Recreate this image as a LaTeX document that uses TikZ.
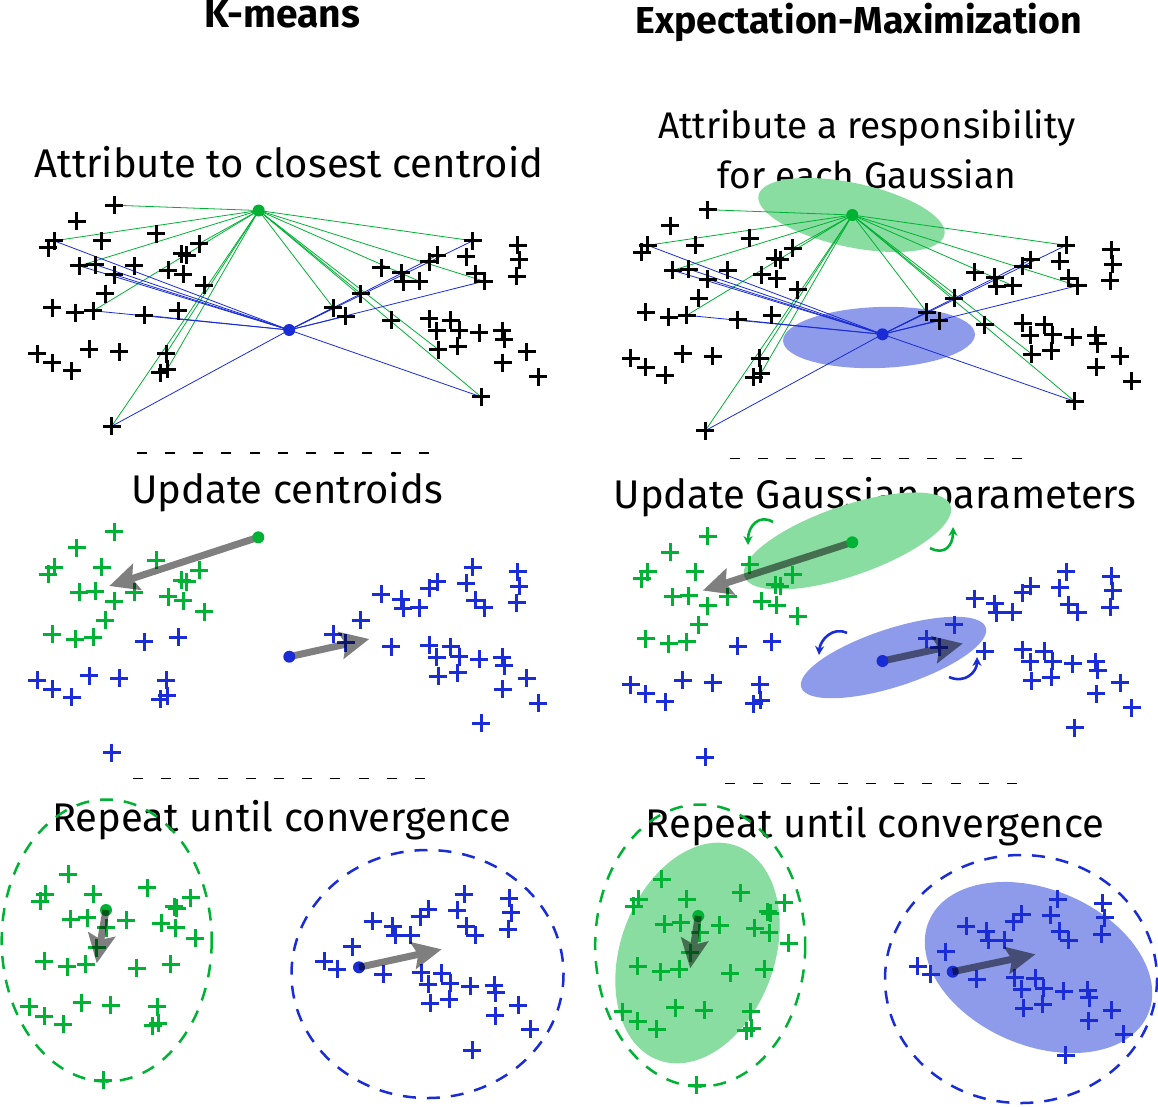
\documentclass[tikz,border=0pt]{standalone}
\usepackage{fontspec}
\setmainfont{Fira Sans}
\usetikzlibrary{arrows.meta}
\definecolor{cg}{RGB}{0,178,52}
\definecolor{cb}{RGB}{26,44,214}
\definecolor{eg}{RGB}{137,221,160}
\definecolor{eb}{RGB}{142,155,235}
\tikzset{
  pmark/.pic={\draw[line width=3pt] (-9,0)--(9,0) (0,-9)--(0,9);},
  ttl/.style={font=\bfseries\fontsize{38}{40}\selectfont, anchor=base},
  sub/.style={font=\fontsize{40}{44}\selectfont, anchor=base},
  subsm/.style={font=\fontsize{37}{42}\selectfont, anchor=base},
  link/.style={line width=0.8pt},
  sep/.style={line width=1.8pt, dash pattern=on 10pt off 18.2pt},
  dcirc/.style={line width=2.5pt, dash pattern=on 13pt off 11pt},
  cdot/.style={circle, fill, inner sep=0pt, minimum size=12pt},
  move/.style={line width=7pt, -{Stealth[length=29pt,width=27pt,inset=5pt]}},
  rotarr/.style={line width=2.6pt, -{Stealth[length=9pt,width=9pt]}},
}
\def\basepts{114.3/531.7/cg,76.7/547.7/cg,54/567.3/cg,48.3/574.3/cg,101.7/567.3/cg,156/560/cg,199.3/570/cg,181.7/580/cg,186.7/581.7/cg,79.3/592.3/cg,95/591/cg,114/601/cg,134.3/592.3/cg,168.3/596.7/cg,183.3/600.7/cg,204.3/611.7/cg,105/620/cg,52.3/634/cg,75/639/cg,93.3/637.3/cg,144.3/641.7/cb,178.3/637.3/cb,37.3/680/cb,52.3/689.3/cb,71.7/697.3/cb,89.3/675.7/cb,119/678.3/cb,166/680/cb,167.3/695.7/cb,160/699.3/cb,111.7/752.7/cb,333.3/634.3/cb,345.7/642.7/cb,360.7/620/cb,381/594/cb,401/599/cb,403.3/608.3/cb,419.3/607.7/cb,429.3/588.3/cb,437.3/581.7/cb,472.7/567.3/cb,466/583.3/cb,475/600/cb,484/607.7/cb,517.7/571.7/cb,519.3/586/cb,516.7/602.7/cb,391/646.7/cb,429/645/cb,436.7/657.3/cb,450.7/646.7/cb,459/656.7/cb,438.3/676/cb,457.7/672.7/cb,479/659/cb,502.3/657.3/cb,504.3/665.7/cb,526.7/678.3/cb,502.7/689/cb,538.3/703.3/cb,481/723.3/cb}
\def\botpts{68.3/874.3/cg,45/894.3/cg,40/901/cg,93.3/894.3/cg,147.3/887.7/cg,190.7/897.7/cg,174/906.7/cg,176.7/908.3/cg,161/923.3/cg,175.7/927.7/cg,195/938.3/cg,70.7/919.3/cg,87.3/917.7/cg,106/927.7/cg,126/920/cg,96.7/947.7/cg,44/961/cg,67.3/966.7/cg,85.7/964.3/cg,136.7/968.3/cg,170.7/964.3/cg,29.3/1006.7/cg,44/1016/cg,63.3/1024.3/cg,81.7/1002.7/cg,110.7/1005/cg,157.3/1006.7/cg,158.3/1023.3/cg,152.7/1025.7/cg,103.3/1080/cg,464.3/894.3/cb,457.3/910/cb,428.3/909/cb,420/916.7/cb,509.3/898.3/cb,511/912.7/cb,508.3/929.3/cb,466/926/cb,475/935/cb,372.7/921/cb,392.7/926/cb,395/935/cb,410.7/935/cb,352.3/946.7/cb,324.3/961/cb,337.3/969/cb,383.3/974/cb,421/972.7/cb,428.3/984.3/cb,441.7/973.3/cb,450/983.3/cb,430/1003.3/cb,449/999.3/cb,470/986/cb,494.3/985/cb,495.7/992.7/cb,518.3/1005/cb,495/1015.7/cb,530/1029.3/cb,472.3/1050/cb}
\begin{document}
\begin{tikzpicture}[x=1pt,y=-1pt]
\useasboundingbox[fill=white] (0,0) rectangle (1158,1106);
% titles
\node[ttl, font=\bfseries\fontsize{39}{40}\selectfont] (t1) at (282,27) {K-means};
\node[ttl, font=\bfseries\fontsize{37.5}{40}\selectfont] (t2) at (858.5,33) {Expectation-Maximization};
\node[sub] (s1) at (289,177) {Attribute to closest centroid};
\node[subsm] (s2) at (867,138.3) {Attribute a responsibility};
\node[subsm] (s3) at (866.7,188.3) {for each Gaussian};
\node[sub] (s4) at (287,503) {Update centroids};
\node[sub] (s5) at (875,508) {Update Gaussian parameters};
\node[sub] (s6) at (281.5,831) {Repeat until convergence};
\node[sub] (s7) at (875,837) {Repeat until convergence};
% separators
\draw[sep] (136.7,453.3) -- (438.3,453.3);
\draw[sep] (133,778.5) -- (434,778.5);
\draw[sep] (730,458.5) -- (1031,458.5);
\draw[sep] (725,783.5) -- (1026,783.5);
% ---------- top-left
\foreach \x/\y/\c [count=\i] in \basepts { \coordinate (tl\i) at (\x,\y-326.5); }
\coordinate (tlG) at (258.7,210.5);
\coordinate (tlB) at (289.2,330);
\foreach \j in {1,3,7,10,20,28,29,31,32,34,38,41,44,53,61} \draw[cg,link] (tlG) -- (tl\j);
\foreach \j in {3,10,11,12,20,21,31,32,33,40,41,44,61} \draw[cb,link] (tlB) -- (tl\j);
\foreach \i in {1,...,61} \pic[black] at (tl\i) {pmark};
\node[cdot,cg] at (tlG) {};
\node[cdot,cb] at (tlB) {};
% ---------- top-right
\fill[eg] (851.5,215) ellipse [x radius=95, y radius=32, rotate=-12];
\fill[eb] (879,337.5) ellipse [x radius=96, y radius=30.5, rotate=2];
\foreach \x/\y/\c [count=\i] in \basepts { \coordinate (tr\i) at (\x+593.5,\y-322); }
\coordinate (trG) at (852.3,215);
\coordinate (trB) at (882.5,334.3);
\foreach \j in {1,3,7,10,20,28,29,31,32,34,38,41,44,53,61} \draw[cg,link] (trG) -- (tr\j);
\foreach \j in {3,10,11,12,20,21,31,32,33,40,41,44,61} \draw[cb,link] (trB) -- (tr\j);
\foreach \i in {1,...,61} \pic[black] at (tr\i) {pmark};
\node[cdot,cg] at (trG) {};
\node[cdot,cb] at (trB) {};
% ---------- middle-left
\foreach \x/\y/\c [count=\i] in \basepts { \coordinate (ml\i) at (\x,\y); \pic[\c] at (ml\i) {pmark}; }
\coordinate (mlG) at (258.3,537.3);
\coordinate (mlB) at (289.3,656.7);
\coordinate (mlGt) at (109.3,586);
\coordinate (mlBt) at (369.3,639);
\begin{scope}[transparency group, opacity=0.5]
\draw[move] (mlG) -- (mlGt);
\draw[move] (mlB) -- (mlBt);
\end{scope}
\node[cdot,cg] at (mlG) {};
\node[cdot,cb] at (mlB) {};
% ---------- middle-right
\fill[eg] (847.5,541) ellipse [x radius=109, y radius=35, rotate=19];
\fill[eb] (893.5,657.5) ellipse [x radius=97, y radius=29, rotate=18];
\draw[rotarr,cg] (773,522) .. controls (760,514) and (748,525) .. (748,545);
\draw[rotarr,cg] (930,548) .. controls (945,556) and (953,545) .. (953,527);
\draw[rotarr,cb] (847,633) .. controls (833,626) and (820,640) .. (819,655);
\draw[rotarr,cb] (949,677) .. controls (965,684) and (977,672) .. (977,657);
\foreach \x/\y/\c [count=\i] in \basepts { \coordinate (mr\i) at (\x+593.5,\y+4.5); \pic[\c] at (mr\i) {pmark}; }
\coordinate (mrG) at (852.3,542.3);
\coordinate (mrB) at (882.5,661);
\coordinate (mrGt) at (702.8,590.5);
\coordinate (mrBt) at (962.8,643.5);
\begin{scope}[transparency group, opacity=0.5]
\draw[move] (mrG) -- (mrGt);
\draw[move] (mrB) -- (mrBt);
\end{scope}
\node[cdot,cg] at (mrG) {};
\node[cdot,cb] at (mrB) {};
% ---------- bottom-left
\draw[cg,dcirc] (106.7,940.5) ellipse [x radius=105, y radius=141];
\draw[cb,dcirc] (427.5,974) ellipse [x radius=136, y radius=124];
\foreach \x/\y/\c [count=\i] in \botpts { \coordinate (bl\i) at (\x,\y); \pic[\c] at (bl\i) {pmark}; }
\coordinate (blG) at (106,910);
\coordinate (blB) at (359,967.3);
\coordinate (blGt) at (96.7,963.3);
\coordinate (blBt) at (441.7,949.3);
\node[cdot,cg] at (blG) {};
\node[cdot,cb] at (blB) {};
\begin{scope}[transparency group, opacity=0.5]
\draw[move] (blG) -- (blGt);
\draw[move] (blB) -- (blBt);
\end{scope}
% ---------- bottom-right
\fill[eg] (697.5,953) ellipse [x radius=114, y radius=77, rotate=70];
\fill[eb] (1038.5,967.5) ellipse [x radius=119, y radius=78, rotate=-23];
\draw[cg,dcirc] (700.2,945.5) ellipse [x radius=105, y radius=141];
\draw[cb,dcirc] (1021,979) ellipse [x radius=136, y radius=124];
\foreach \x/\y/\c [count=\i] in \botpts { \coordinate (br\i) at (\x+593.5,\y+5); \pic[\c] at (br\i) {pmark}; }
\coordinate (brG) at (698.3,916);
\coordinate (brB) at (952.7,971.7);
\coordinate (brGt) at (690.2,968.3);
\coordinate (brBt) at (1035.5,954.3);
\node[cdot,cg] at (brG) {};
\node[cdot,cb] at (brB) {};
\begin{scope}[transparency group, opacity=0.5]
\draw[move] (brG) -- (brGt);
\draw[move] (brB) -- (brBt);
\end{scope}
\end{tikzpicture}
\end{document}
